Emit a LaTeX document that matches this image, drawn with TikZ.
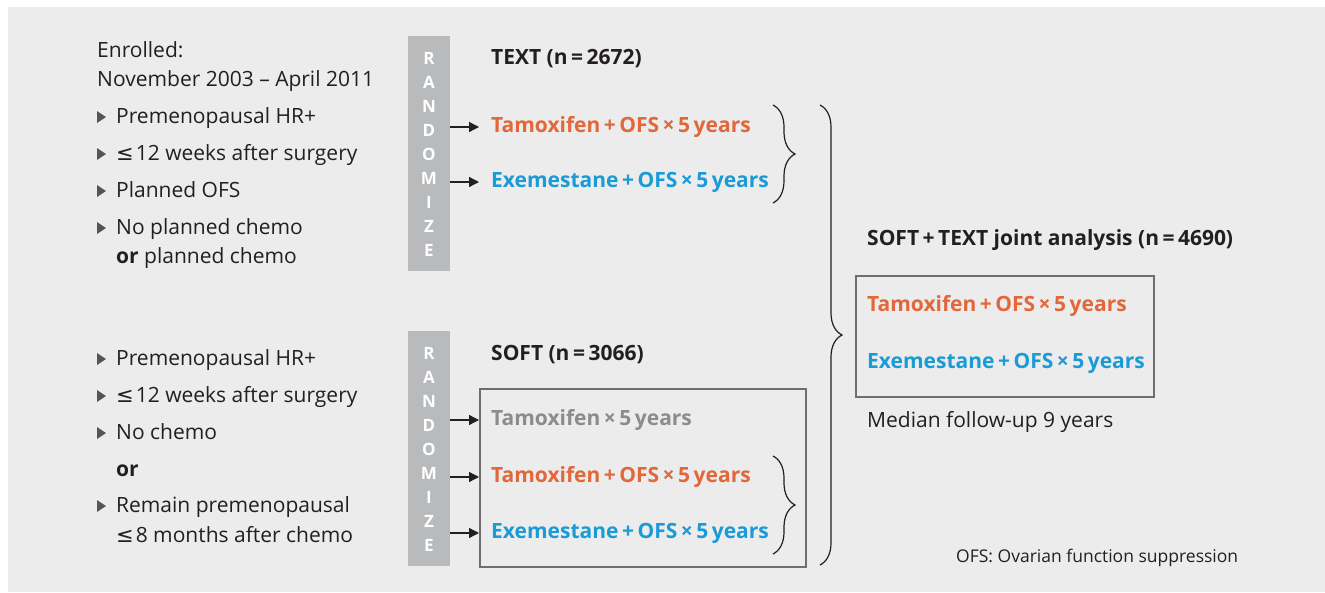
\documentclass[tikz,border=0pt]{standalone}
\usepackage{fontspec}
\setmainfont{Open Sans}
\newfontfamily\symfont{DejaVu Sans}
\usetikzlibrary{arrows.meta,decorations.pathreplacing}
\definecolor{panel}{HTML}{EBECEB}
\definecolor{barfill}{HTML}{B9BABC}
\definecolor{ink}{HTML}{231F20}
\definecolor{tamorange}{HTML}{E2673A}
\definecolor{exeblue}{HTML}{1A9BD7}
\definecolor{tamgray}{HTML}{8C8C8C}
\definecolor{framegray}{HTML}{6E6E6E}
\definecolor{bulletgray}{HTML}{555555}
\newcommand{\regimen}[1]{#1\,+\,OFS\,\texttimes\,5\,years}
\newcommand{\atmost}{{\symfont ≤}\kern2pt}

\begin{document}
\begin{tikzpicture}[x=1pt, y=-1pt, font=\fontsize{21}{25}\selectfont,
    item/.style={anchor=base west, inner sep=0pt, text=ink},
    head/.style={item, font=\fontsize{21}{25}\selectfont\bfseries},
    arm/.style={anchor=base west, inner xsep=12pt, inner ysep=0pt, text height=15pt, text depth=5pt,
      font=\fontsize{21}{25}\selectfont\bfseries},
    randbar/.style={fill=barfill, anchor=north west, inner sep=0pt, minimum width=42pt, minimum height=235pt},
    letter/.style={text=white, inner sep=0pt, font=\fontsize{17}{17}\selectfont\bfseries},
    frame/.style={draw=framegray, line width=1.8pt, anchor=north west, inner sep=0pt},
    arr/.style={ink, line width=1.3pt, -{Triangle[length=10pt,width=10pt]}},
    brc/.style={ink, line width=1.2pt, decorate, decoration={brace, amplitude=22pt}}]
  \useasboundingbox (0,0) rectangle (1325,592);
  \fill[panel] (8,7) rectangle (1325,592);

  % left column
  \node[item] (enrolled) at (97,57) {Enrolled:};
  \node[item] (period) at (97,86) {November 2003 -- April 2011};
  \node[item] (critA1) at (116,123) {Premenopausal HR+};
  \node[item] (critA2) at (116,160) {\atmost 12 weeks after surgery};
  \node[item] (critA3) at (116,197) {Planned OFS};
  \node[item] (critA4) at (116,234) {No planned chemo};
  \node[item] (critA5) at (116,263) {\textbf{or} planned chemo};
  \node[item] (critB1) at (116,365) {Premenopausal HR+};
  \node[item] (critB2) at (116,402) {\atmost 12 weeks after surgery};
  \node[item] (critB3) at (116,439) {No chemo};
  \node[item] (critB4) at (116,476) {\textbf{or}};
  \node[item] (critB5) at (116,512) {Remain premenopausal};
  \node[item] (critB6) at (116,542) {\atmost 8 months after chemo};
  \foreach \y in {123,160,197,234,365,402,439,512}
    \fill[bulletgray] (97,\y-12) -- (97,\y) -- (106,\y-6) -- cycle;

  % randomize bars
  \node[randbar] (randA) at (408,36) {};
  \node[randbar] (randB) at (408,331) {};
  \foreach \l [count=\k from 0] in {R,A,N,D,O,M,I,Z,E} {
    \node[letter] (randA\k) at (429,58+24*\k) {\l};
    \node[letter] (randB\k) at (429,353+24*\k) {\l};
  }

  % TEXT trial
  \node[head] (textHead) at (491,64) {TEXT (n\,=\,2672)};
  \node[arm, text=tamorange] (textTam) at (479,132) {\regimen{Tamoxifen}};
  \node[arm, text=exeblue] (textExe) at (479,187) {\regimen{Exemestane}};
  \draw[arr] (randA.east |- textTam.west) -- (textTam.west);
  \draw[arr] (randA.east |- textExe.west) -- (textExe.west);
  \draw[brc] (773,105) -- (773,203);

  % SOFT trial
  \node[head] (softHead) at (491,360) {SOFT (n\,=\,3066)};
  \node[frame, minimum width=326pt, minimum height=178pt] (softBox) at (479,388) {};
  \node[arm, text=tamgray] (softTamOnly) at (479,425) {Tamoxifen\,\texttimes\,5\,years};
  \node[arm, text=tamorange] (softTam) at (479,482) {\regimen{Tamoxifen}};
  \node[arm, text=exeblue] (softExe) at (479,538) {\regimen{Exemestane}};
  \draw[arr] (randB.east |- softTamOnly.west) -- (softBox.west |- softTamOnly.west);
  \draw[arr] (randB.east |- softTam.west) -- (softBox.west |- softTam.west);
  \draw[arr] (randB.east |- softExe.west) -- (softBox.west |- softExe.west);
  \draw[brc] (773,456) -- (773,554);

  % joint analysis
  \draw[brc] (820,105) -- (820,565);
  \node[head] (jointHead) at (867,245) {SOFT\,+\,TEXT joint analysis (n\,=\,4690)};
  \node[frame, minimum width=298pt, minimum height=121pt] (jointBox) at (855,275) {};
  \node[arm, text=tamorange] (jointTam) at (855,311) {\regimen{Tamoxifen}};
  \node[arm, text=exeblue] (jointExe) at (855,368) {\regimen{Exemestane}};
  \node[item] (followUp) at (867,427) {Median follow-up 9 years};
  \node[item, font=\fontsize{17.5}{20}\selectfont] (abbrev) at (956,562) {OFS: Ovarian function suppression};
\end{tikzpicture}
\end{document}
